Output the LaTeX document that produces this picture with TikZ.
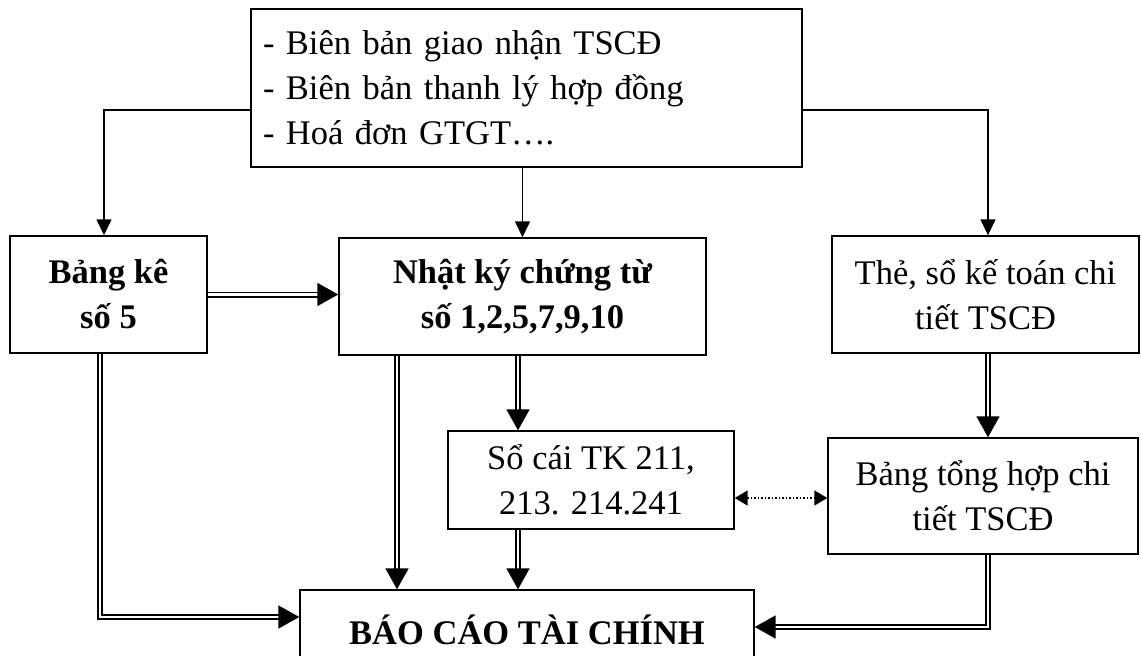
\documentclass[tikz,border=0pt]{standalone}
\usepackage{fontspec}
\setmainfont{Liberation Serif}
\usetikzlibrary{arrows.meta,calc}
\newcommand\myfs{\fontsize{34.5}{45}\selectfont}
\begin{document}
\begin{tikzpicture}[x=1pt,y=-1pt,
  box/.style={draw, line width=1.4pt, inner sep=0pt, align=center, font=\myfs},
  sarr/.style={line width=1.4pt, -{Triangle[length=16pt,width=15pt]}},
  dbl/.style={double, double distance=2.8pt, line width=1.6pt, -{Triangle[length=21pt,width=23pt]}},
  dots/.style={line width=1.5pt, dash pattern=on 1.5pt off 2pt, {Triangle[length=13pt,width=15pt]}-{Triangle[length=13pt,width=15pt]}}]
\useasboundingbox (0,0) rectangle (1141,656);
\clip (0,0) rectangle (1141,656);
\fill[white] (0,0) rectangle (1141,656);
% boxes
\node[box, minimum width=551pt, minimum height=158pt, text width=527pt, inner xsep=12pt, align=left] (top) at (526.5,88)
  {- Biên bản giao nhận TSCĐ\\- Biên bản thanh lý hợp đồng\\- Hoá đơn GTGT….};
\node[box, minimum width=197pt, minimum height=117pt, font=\myfs\bfseries] (bk) at (108.5,294.5) {Bảng kê\\số 5};
\node[box, minimum width=367pt, minimum height=117pt, font=\myfs\bfseries] (nk) at (522.5,296.5) {Nhật ký chứng từ\\số 1,2,5,7,9,10};
\node[box, minimum width=307pt, minimum height=117pt] (the) at (985.5,294.5) {Thẻ, sổ kế toán chi\\tiết TSCĐ};
\node[box, minimum width=286pt, minimum height=98pt] (sc) at (591,480) {Sổ cái TK 211,\\213. 214.241};
\node[box, minimum width=310pt, minimum height=116pt] (bth) at (983,496) {Bảng tổng hợp chi\\tiết TSCĐ};
\node[box, minimum width=454pt, minimum height=80pt, font=\myfs\bfseries] (bc) at (527,630) {BÁO CÁO TÀI CHÍNH};
% helper coordinates
\coordinate (lx) at (104,110);
\coordinate (rx) at (988,110);
\coordinate (bl) at (100,617);
\coordinate (nkl) at (397,0);
\coordinate (mx) at (518,0);
\coordinate (dy) at (0,498);
\coordinate (br) at (988,627);
% single arrows from top
\draw[sarr] (top.west |- lx) -- (lx) -- (lx |- bk.north);
\draw[sarr] (nk.north |- top.south) -- (nk.north);
\draw[sarr] (top.east |- rx) -- (rx) -- (rx |- the.north);
% double arrows
\draw[dbl] (bk.east) -- (bk.east -| nk.west);
\draw[dbl] (bk.south -| bl) -- (bl) -- (bl -| bc.west);
\draw[dbl] (nk.south -| nkl) -- (nkl |- bc.north);
\draw[dbl] (nk.south -| mx) -- (mx |- sc.north);
\draw[dbl] (sc.south -| mx) -- (mx |- bc.north);
\draw[dbl] (the.south -| rx) -- (rx |- bth.north);
\draw[dbl] (bth.south -| br) -- (br) -- (br -| bc.east);
% dotted link
\draw[dots] (sc.east |- dy) -- (bth.west |- dy);
\end{tikzpicture}
\end{document}
